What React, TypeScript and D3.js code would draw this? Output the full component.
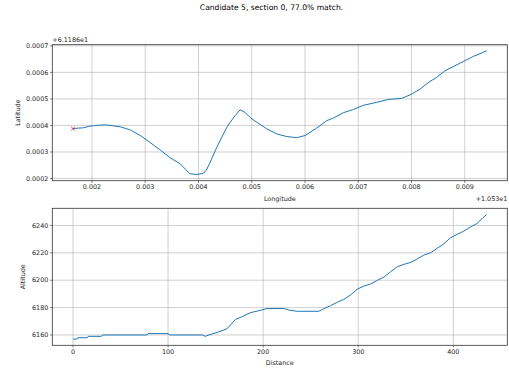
import React from "react";
import * as d3 from "d3";

const TITLE = "Candidate 5, section 0, 77.0% match.";
// Top panel: longitude / latitude offsets (relative to +1.053e1 / +6.1186e1)
const lonOffset = "+1.053e1";
const latOffset = "+6.1186e1";
const lon = [0.001644, 0.00175, 0.00184, 0.00195, 0.00203, 0.00216, 0.00225, 0.00234, 0.00253, 0.00272, 0.00291, 0.00309, 0.00328, 0.00347, 0.00366, 0.00375, 0.00384, 0.00397, 0.004094, 0.00415, 0.004219, 0.004345, 0.004469, 0.004533, 0.004595, 0.004688, 0.004782, 0.004876, 0.00497, 0.005095, 0.005283, 0.005471, 0.005658, 0.005846, 0.006002, 0.00622, 0.006409, 0.006533, 0.00672, 0.006908, 0.007095, 0.007347, 0.007564, 0.007816, 0.007971, 0.008159, 0.008347, 0.008472, 0.008628, 0.008816, 0.008971, 0.009159, 0.00941];
const lat = [0.000388, 0.00039, 0.000391, 0.000397, 0.000399, 0.000401, 0.000402, 0.0004, 0.000395, 0.000383, 0.000362, 0.000336, 0.000308, 0.000278, 0.000255, 0.000236, 0.000218, 0.000215, 0.00022, 0.000232, 0.000261, 0.000318, 0.000368, 0.000393, 0.000412, 0.000437, 0.000459, 0.000449, 0.00043, 0.000412, 0.000387, 0.000368, 0.000358, 0.000354, 0.000362, 0.00039, 0.000418, 0.000428, 0.000448, 0.00046, 0.000476, 0.000487, 0.000498, 0.000502, 0.000515, 0.000537, 0.000566, 0.000581, 0.000606, 0.000625, 0.000641, 0.00066, 0.000681];
const lonTicks = [0.002, 0.003, 0.004, 0.005, 0.006, 0.007, 0.008, 0.009];
const latTicks = [0.0002, 0.0003, 0.0004, 0.0005, 0.0006, 0.0007];

// Bottom panel: distance / altitude
const dist = [0, 4, 5, 15, 16, 30, 31, 78, 79, 100, 102, 136, 139, 143, 152, 158.6, 162, 165.6, 171, 178, 186.6, 197, 204, 221.7, 227, 235.8, 258.5, 263.8, 270.8, 277.9, 284.8, 291.9, 298.9, 306, 313, 320, 327, 334, 341, 348, 355, 362, 369, 376, 383, 390, 397, 404, 411, 418, 425, 430.5, 435];
const alt = [6157, 6157, 6158, 6158, 6159, 6159, 6160, 6160, 6161, 6161, 6160, 6160, 6159, 6160, 6162, 6163.6, 6164.6, 6167.3, 6171.4, 6173.4, 6176.3, 6178, 6179.3, 6179.3, 6178.2, 6177.3, 6177.3, 6179.2, 6181.4, 6183.9, 6186, 6189.2, 6193.4, 6195.8, 6197.2, 6199.9, 6202.3, 6206.2, 6209.8, 6211.6, 6213, 6215.5, 6218.4, 6220, 6223.3, 6226.6, 6231, 6233.5, 6235.9, 6238.8, 6241.5, 6245.2, 6248];
const distTicks = [0, 100, 200, 300, 400];
const altTicks = [6160, 6180, 6200, 6220, 6240];

const FONT = "DejaVu Sans, sans-serif";
const FS = 6.4;
const LINE = "#1f77b4";

function pad(ext: [number, number]): [number, number] {
  const m = (ext[1] - ext[0]) * 0.05;
  return [ext[0] - m, ext[1] + m];
}

export default function App() {
  const W = 509, H = 370;
  const L = 52.3, R = 507.3;
  const top1 = 44.7, bot1 = 180.7;
  const top2 = 208.3, bot2 = 345.3;

  const x1 = d3.scaleLinear().domain(pad(d3.extent(lon) as [number, number])).range([L, R]);
  const y1 = d3.scaleLinear().domain(pad(d3.extent(lat) as [number, number])).range([bot1, top1]);
  const x2 = d3.scaleLinear().domain(pad(d3.extent(dist) as [number, number])).range([L, R]);
  const y2 = d3.scaleLinear().domain(pad(d3.extent(alt) as [number, number])).range([bot2, top2]);

  const line1 = d3.line<number>().x((_, i) => x1(lon[i])).y((d) => y1(d))(lat) || "";
  const line2 = d3.line<number>().x((_, i) => x2(dist[i])).y((d) => y2(d))(alt) || "";

  const grid = "#b0b0b0";
  const txt = "#262626";

  const axes = (
    xs: d3.ScaleLinear<number, number>, ys: d3.ScaleLinear<number, number>,
    xt: number[], yt: number[], top: number, bot: number,
    xfmt: (v: number) => string, yfmt: (v: number) => string
  ) => (
    <g>
      {xt.map((t) => (
        <g key={"x" + t}>
          <line x1={xs(t)} x2={xs(t)} y1={top} y2={bot} stroke={grid} strokeWidth={0.6} />
          <line x1={xs(t)} x2={xs(t)} y1={bot} y2={bot + 2.2} stroke={txt} strokeWidth={0.6} />
          <text x={xs(t)} y={bot + 3.5} dy="0.75em" textAnchor="middle" fontSize={FS} fill={txt}>{xfmt(t)}</text>
        </g>
      ))}
      {yt.map((t) => (
        <g key={"y" + t}>
          <line x1={L} x2={R} y1={ys(t)} y2={ys(t)} stroke={grid} strokeWidth={0.6} />
          <line x1={L - 2.2} x2={L} y1={ys(t)} y2={ys(t)} stroke={txt} strokeWidth={0.6} />
          <text x={L - 4} y={ys(t)} dy="0.35em" textAnchor="end" fontSize={FS} fill={txt}>{yfmt(t)}</text>
        </g>
      ))}
    </g>
  );

  return (
    <svg width={W} height={H} style={{ position: "absolute", left: 0, top: 0, background: "#fff" }} fontFamily={FONT}>
      <rect width={W} height={H} fill="#fff" />
      <text x={271.5} y={10.2} textAnchor="middle" fontSize={7.6} fill="#000">{TITLE}</text>

      {axes(x1, y1, lonTicks, latTicks, top1, bot1, (v) => v.toFixed(3), (v) => v.toFixed(4))}
      <path d={line1} fill="none" stroke={LINE} strokeWidth={1} />
      <g stroke="#e8262a" strokeWidth={0.9}>
        <line x1={x1(lon[0]) - 1.8} x2={x1(lon[0]) + 1.8} y1={y1(lat[0]) - 1.8} y2={y1(lat[0]) + 1.8} />
        <line x1={x1(lon[0]) - 1.8} x2={x1(lon[0]) + 1.8} y1={y1(lat[0]) + 1.8} y2={y1(lat[0]) - 1.8} />
      </g>
      <rect x={L} y={top1} width={R - L} height={bot1 - top1} fill="none" stroke="#333" strokeWidth={0.8} />
      <text x={L} y={42} fontSize={FS} fill={txt}>{latOffset}</text>
      <text x={R} y={200.5} textAnchor="end" fontSize={FS} fill={txt}>{lonOffset}</text>
      <text x={(L + R) / 2} y={200.5} textAnchor="middle" fontSize={FS} fill={txt}>Longitude</text>
      <text transform={`translate(19.5,${(top1 + bot1) / 2}) rotate(-90)`} textAnchor="middle" fontSize={FS} fill={txt}>Latitude</text>

      {axes(x2, y2, distTicks, altTicks, top2, bot2, (v) => String(v), (v) => String(v))}
      <path d={line2} fill="none" stroke={LINE} strokeWidth={1} />
      <rect x={L} y={top2} width={R - L} height={bot2 - top2} fill="none" stroke="#333" strokeWidth={0.8} />
      <text x={(L + R) / 2} y={364.5} textAnchor="middle" fontSize={FS} fill={txt}>Distance</text>
      <text transform={`translate(25,${(top2 + bot2) / 2}) rotate(-90)`} textAnchor="middle" fontSize={FS} fill={txt}>Altitude</text>
    </svg>
  );
}
